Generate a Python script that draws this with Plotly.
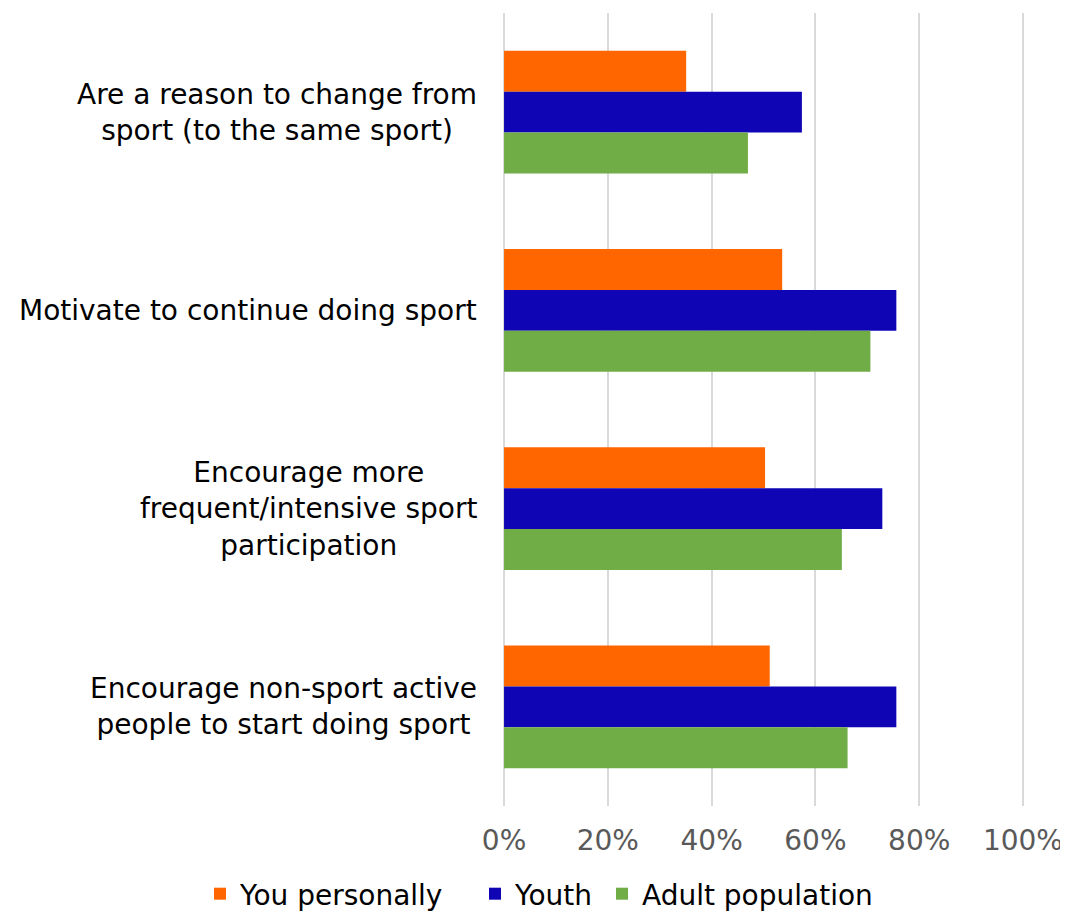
import plotly.graph_objects as go

# categorías (de arriba hacia abajo)
categorias = [
    "Are a reason to change from<br>sport (to the same sport)",
    "Motivate to continue doing sport",
    "Encourage more<br>frequent/intensive sport<br>participation",
    "Encourage non-sport active<br>people to start doing sport",
]

you_personally = [0.351, 0.536, 0.503, 0.512]
youth = [0.574, 0.756, 0.729, 0.756]
adult_population = [0.470, 0.706, 0.651, 0.662]

series = [
    ("You personally", you_personally, "#FF6600"),
    ("Youth", youth, "#0F05B4"),
    ("Adult population", adult_population, "#70AD47"),
]

fuente = "Verdana, DejaVu Sans, sans-serif"
# la página deja 8 px de margen en el body
W, H = 1060, 905

# una leyenda por serie, para colocar cada entrada como en el original
leyendas = ["legend", "legend2", "legend3"]
inicio_leyenda = [192, 467, 594]  # px desde la izquierda

fig = go.Figure()
for (nombre, valores, color), ley in zip(series, leyendas):
    fig.add_trace(go.Bar(
        y=categorias,
        x=valores,
        name=nombre,
        orientation="h",
        marker=dict(color=color, line=dict(width=0)),
        legend=ley,
        showlegend=True,
    ))

# etiquetas de categoría centradas (como en Excel)
for cat in categorias:
    fig.add_annotation(
        x=0, xref="paper", y=cat, yref="y",
        text=cat, showarrow=False,
        xanchor="right", yanchor="middle", align="center",
        xshift=-24,
        font=dict(family=fuente, size=28, color="#000000"),
    )

ley_cfg = {}
for ley, x0 in zip(leyendas, inicio_leyenda):
    ley_cfg[ley] = dict(
        visible=True,
        orientation="h",
        xref="container", x=x0 / W, xanchor="left",
        yref="container", y=1 - 886 / H, yanchor="middle",
        font=dict(family=fuente, size=28, color="#000000"),
        bgcolor="rgba(0,0,0,0)",
    )

fig.update_layout(
    showlegend=True,
    barmode="group",
    bargap=0.38,
    bargroupgap=0,
    width=W,
    height=H,
    margin=dict(l=495, r=44, t=5, b=107, autoexpand=False),
    plot_bgcolor="white",
    paper_bgcolor="white",
    font=dict(family=fuente, size=28, color="#595959"),
    xaxis=dict(
        range=[-0.002, 1.002],
        dtick=0.2,
        tickformat=".0%",
        showgrid=True,
        gridcolor="#D9D9D9",
        gridwidth=2,
        zeroline=True,
        zerolinecolor="#D9D9D9",
        zerolinewidth=2,
        showline=False,
        ticks="",
        ticklabelstandoff=15,
        tickfont=dict(family=fuente, size=28, color="#595959"),
    ),
    yaxis=dict(
        autorange="reversed",
        showticklabels=False,
        showgrid=False,
        zeroline=False,
        showline=False,
        ticks="",
    ),
    **ley_cfg,
)

fig.write_html("out.html")
